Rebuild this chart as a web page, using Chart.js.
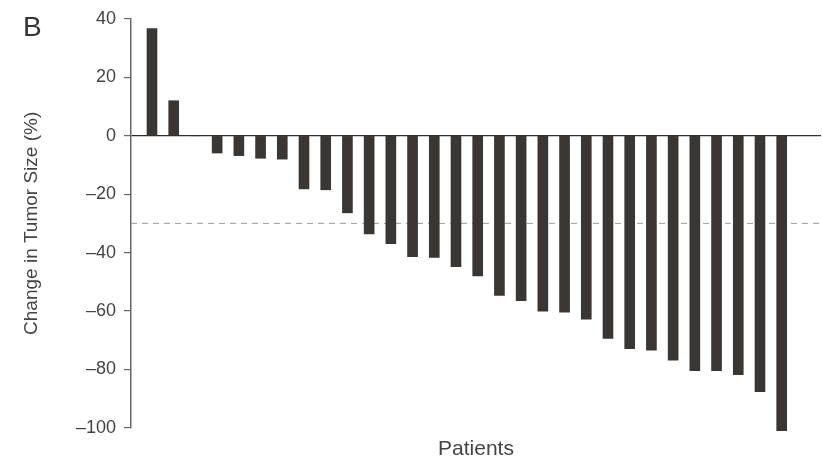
<!DOCTYPE html>
<html>
<head>
<meta charset="utf-8">
<script src="https://cdn.jsdelivr.net/npm/chart.js@4.4.1/dist/chart.umd.min.js"></script>
<style>
  html, body { margin: 0; padding: 0; background: #ffffff; }
  #wrap { width: 822px; height: 462px; position: relative; }
</style>
</head>
<body>
<div id="wrap"><canvas id="c" width="822" height="462"></canvas></div>
<script>
// ---- Data ----
const patients = [1,2,3,4,5,6,7,8,9,10,11,12,13,14,15,16,17,18,19,20,21,22,23,24,25,26,27,28,29,30];
const changePct = [36.7, 12.0, 0, -5.9, -6.8, -7.7, -8.0, -18.2, -18.5, -26.4, -33.6, -37.0, -41.4, -41.7, -44.8,
                   -48.0, -54.7, -56.5, -60.1, -60.4, -62.8, -69.4, -72.9, -73.4, -76.9, -80.5, -80.5, -81.8, -87.7, -101.0];
const yTicks = [40, 20, 0, -20, -40, -60, -80, -100];
const responseThreshold = -30;
const panelLabel = 'B';
const yTitle = 'Change in Tumor Size (%)';
const xTitle = 'Patients';

const xMin = 0.033, xMax = 31.81;
const FONT = "'Liberation Sans', Arial, Helvetica, sans-serif";

const panelLabelPlugin = {
  id: 'panelLabel',
  afterDraw(chart) {
    const ctx = chart.ctx;
    ctx.save();
    ctx.fillStyle = '#333';
    ctx.font = '28px ' + FONT;
    ctx.textBaseline = 'alphabetic';
    ctx.fillText(panelLabel, 23, 36);
    ctx.restore();
  }
};

new Chart(document.getElementById('c'), {
  type: 'bar',
  data: {
    datasets: [
      {
        type: 'bar',
        data: patients.map((p, i) => ({ x: p, y: changePct[i] })),
        backgroundColor: '#3a3634',
        borderWidth: 0,
        barThickness: 10,
        clip: false,
        order: 1
      },
      {
        type: 'line',
        data: [{ x: xMin, y: responseThreshold }, { x: xMax, y: responseThreshold }],
        borderColor: '#9a9a9a',
        borderWidth: 1,
        borderDash: [6, 5],
        pointRadius: 0,
        fill: false,
        order: 2
      }
    ]
  },
  options: {
    responsive: false,
    devicePixelRatio: 1,
    animation: false,
    layout: { padding: { top: 19, right: 1, left: 0, bottom: 0 } },
    plugins: { legend: { display: false }, tooltip: { enabled: false } },
    scales: {
      x: {
        type: 'linear',
        min: xMin,
        max: xMax,
        offset: false,
        ticks: { display: false },
        grid: { display: false },
        border: { display: false },
        title: {
          display: true,
          text: xTitle,
          color: '#444',
          font: { family: FONT, size: 21 },
          padding: { top: 0, bottom: 0 }
        },
        afterFit(scale) { scale.height = 34.3; }
      },
      y: {
        min: -100,
        max: 40,
        afterBuildTicks(scale) { scale.ticks = yTicks.map(v => ({ value: v })); },
        ticks: {
          color: '#444',
          font: { family: FONT, size: 18 },
          padding: 8,
          callback: v => (v < 0 ? '\u2013' + Math.abs(v) : String(v))
        },
        grid: {
          drawOnChartArea: true,
          color: c => (c.tick && c.tick.value === 0 ? '#2e2e2e' : 'rgba(0,0,0,0)'),
          tickColor: '#666',
          tickLength: 7,
          lineWidth: 1.2
        },
        border: { display: true, color: '#666', width: 1.5 },
        title: {
          display: true,
          text: yTitle,
          color: '#444',
          font: { family: FONT, size: 19 },
          padding: { top: 20, bottom: 0 }
        },
        afterFit(scale) { scale.width = 131; }
      }
    }
  },
  plugins: [panelLabelPlugin]
});
</script>
</body>
</html>
